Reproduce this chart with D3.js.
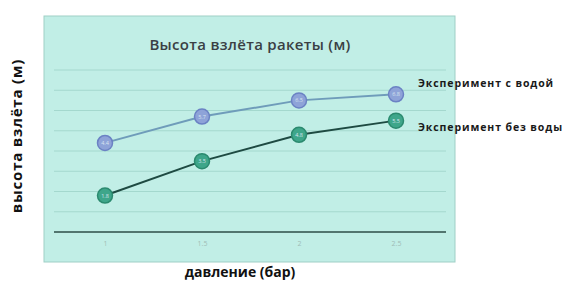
<!DOCTYPE html>
<html><head><meta charset="utf-8">
<script src="https://cdn.jsdelivr.net/npm/d3@7"></script>
<style>body{margin:0;background:#fff}svg{display:block}</style>
</head><body>
<svg id="c" width="564" height="286"></svg>
<script>
const categories = ["1", "1.5", "2", "2.5"];
const withWater = [4.4, 5.7, 6.5, 6.8];
const withoutWater = [1.8, 3.5, 4.8, 5.5];
const seriesNames = ["Эксперимент с водой", "Эксперимент без воды"];
const yTicks = [1, 2, 3, 4, 5, 6, 7, 8];

const svg = d3.select("#c");
const panel = {x: 44, y: 16, w: 411, h: 246};
svg.append("rect").attr("x", panel.x).attr("y", panel.y).attr("width", panel.w).attr("height", panel.h)
  .attr("fill", "#c1eee6").attr("stroke", "#9fcfc6").attr("stroke-width", 1);

const x = d3.scalePoint().domain(categories).range([105, 396]);
const y = d3.scaleLinear().domain([0, 8]).range([232, 70]);

// gridlines
svg.append("g").selectAll("line").data(yTicks).join("line")
  .attr("x1", 54).attr("x2", 446).attr("y1", d => y(d)).attr("y2", d => y(d))
  .attr("stroke", "#a4d8ce").attr("stroke-width", 1);

// baseline axis
const xAxis = svg.append("g").attr("transform", `translate(0,${y(0)})`)
  .call(d3.axisBottom(x).tickSize(0).tickPadding(9));
xAxis.select(".domain").remove();
xAxis.append("line").attr("x1", 54).attr("x2", 446).attr("stroke", "#2c4d47").attr("stroke-width", 1.5);
xAxis.selectAll("text").attr("fill", "#9fbcb6").attr("font-size", 7).attr("font-family", "Open Sans");

// title
svg.append("text").attr("x", 250).attr("y", 50).attr("text-anchor", "middle")
  .attr("font-family", "Open Sans").attr("font-size", 15).attr("font-weight", 600).attr("fill", "#3a3f44")
  .attr("letter-spacing", 0.3)
  .text("Высота взлёта ракеты (м)");

const line = d3.line().x((d, i) => x(categories[i])).y(d => y(d));
const series = [
  {vals: withWater, line: "#6f9cba", fill: "#8ea3d8", stroke: "#6b82c4"},
  {vals: withoutWater, line: "#1e4a42", fill: "#3ea68a", stroke: "#2b8a6f"}
];
series.forEach(s => {
  svg.append("path").datum(s.vals).attr("d", line).attr("fill", "none")
    .attr("stroke", s.line).attr("stroke-width", 2);
  const g = svg.append("g").selectAll("g").data(s.vals).join("g")
    .attr("transform", (d, i) => `translate(${x(categories[i])},${y(d)})`);
  g.append("circle").attr("r", 7.5).attr("fill", s.fill).attr("stroke", s.stroke).attr("stroke-width", 1.5);
  g.append("text").attr("text-anchor", "middle").attr("dy", 2).attr("font-size", 5.5)
    .attr("font-family", "Open Sans").attr("fill", "#d8e4f0").text(d => d);
});

// legend labels
svg.append("g").selectAll("text").data(seriesNames).join("text")
  .attr("x", 418).attr("y", (d, i) => [y(withWater[3]) - 7, y(withoutWater[3]) + 10][i])
  .attr("font-family", "Open Sans").attr("font-size", 10.5).attr("font-weight", 700).attr("fill", "#1a1a1a")
  .attr("letter-spacing", 0.9)
  .text(d => d);

// axis titles
svg.append("text").attr("x", 240).attr("y", 277).attr("text-anchor", "middle")
  .attr("font-family", "Open Sans").attr("font-size", 14).attr("font-weight", 700).attr("fill", "#111")
  .text("давление (бар)");
svg.append("text").attr("transform", "translate(22,136) rotate(-90)").attr("text-anchor", "middle")
  .attr("font-family", "Open Sans").attr("font-size", 15).attr("font-weight", 700).attr("fill", "#111")
  .attr("letter-spacing", 0.8)
  .text("высота взлёта (м)");
</script>
</body></html>
